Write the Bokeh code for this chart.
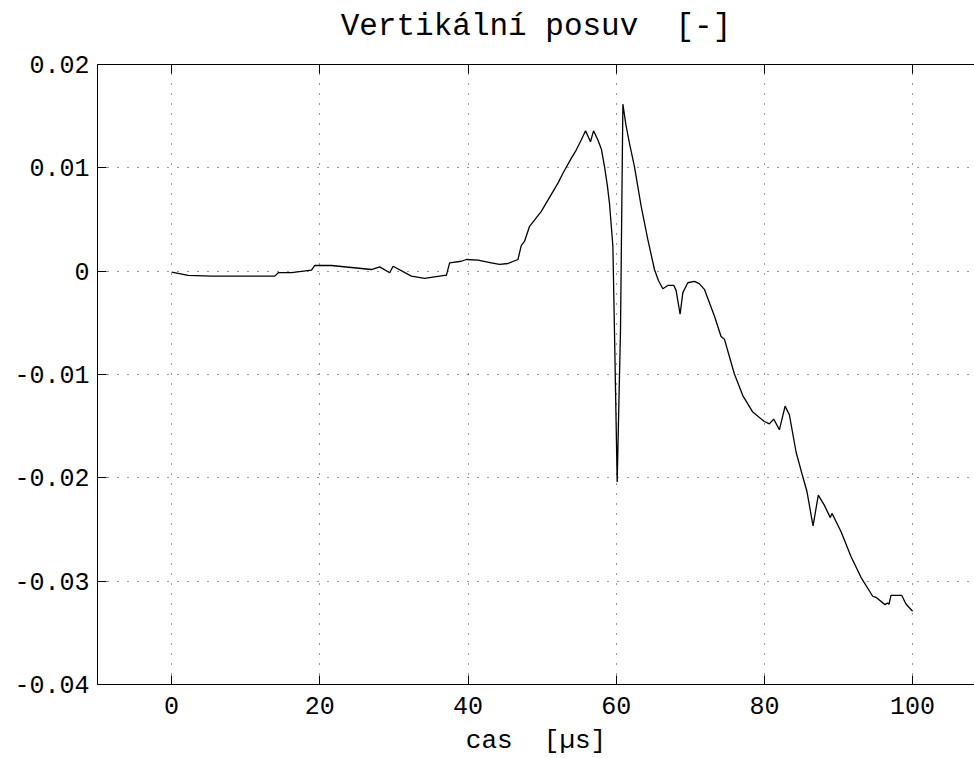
from bokeh.plotting import figure
from bokeh.models import FixedTicker, LinearAxis, Range1d, CustomLabelingPolicy
from bokeh.embed import file_html
from bokeh.resources import INLINE

# ---- data ----
time_us = [0, 2.25, 5.39, 13.93, 14.39, 16.18, 18.88, 19.32, 21.57, 26.96,
           28.08, 29.43, 29.89, 32.36, 34.14, 36.84, 37.08, 37.52, 39.10, 39.77,
           41.35, 43.14, 44.26, 45.40, 46.74, 47.19, 47.63, 48.31, 49.89, 52.14,
           52.81, 53.93, 54.60, 55.28, 55.86, 56.53, 56.94, 57.53, 58.0, 58.42, 58.8, 59.09,
           59.55, 59.76, 60.13, 60.58, 60.90, 61.30, 61.79, 62.46, 63.37, 64.27, 65.16, 65.7,
           66.29, 66.97, 67.78, 68.08, 68.62, 68.99, 69.66, 70.55, 71.20, 71.90, 73.25,
           74.15, 74.60, 75.95, 77.08, 78.43, 79.99, 80.67, 81.26, 82.02, 82.79,
           83.37, 84.27, 85.18, 85.75, 86.56, 87.27, 88.08, 88.89, 89.12, 90.33,
           91.68, 93.03, 94.61, 95.05, 96.27, 96.63, 96.81, 97.08, 98.52, 99.10,
           100.0]
posuv = [-0.0001, -0.00041, -0.00048, -0.00048, -0.00015, -0.00015, 0.0001, 0.00055, 0.00055, 0.00016,
         0.00042, -0.00015, 0.00048, -0.00048, -0.0007, -0.00041, -0.00041, 0.00081, 0.00096, 0.00113,
         0.00106, 0.00081, 0.00065, 0.00074, 0.00113, 0.0025, 0.00289, 0.00434, 0.00578, 0.00852,
         0.00948, 0.01092, 0.01172, 0.01269, 0.01358, 0.01252, 0.01358, 0.01269, 0.0118, 0.01012, 0.0083, 0.00659,
         0.00241, -0.00562, -0.02039, -0.00562, 0.01616, 0.0142, 0.01237, 0.01012, 0.00626, 0.00305, 0.00016, -0.0009,
         -0.0017, -0.00138, -0.00138, -0.00186, -0.00417, -0.00208, -0.00112, -0.00099, -0.0012, -0.00176, -0.00434,
         -0.00632, -0.00658, -0.00995, -0.01204, -0.01364, -0.01455, -0.01477, -0.01432, -0.01535, -0.01306,
         -0.0139, -0.0175, -0.0199, -0.02135, -0.02466, -0.02168, -0.02264, -0.02385, -0.02344, -0.0252,
         -0.02761, -0.02963, -0.03146, -0.03156, -0.03227, -0.03211, -0.03225, -0.03137, -0.03137, -0.03221,
         -0.03291]

x_ticks = [0, 20, 40, 60, 80, 100]
y_ticks = [-0.04, -0.03, -0.02, -0.01, 0, 0.01, 0.02]
y_tick_labels = ["-0.04", "-0.03", "-0.02", "-0.01", "0", "0.01", "0.02"]

# two spaces kept visible (SVG collapses ordinary double spaces)
title_text = "Vertikální posuv \u00a0[-]"
x_label = "cas \u00a0[µs]"

FONT = "Liberation Mono"

p = figure(width=974, height=758, output_backend="svg", toolbar_location=None,
           x_range=Range1d(-10, 108.35), y_range=Range1d(-0.04, 0.02),
           min_border_left=97, min_border_right=0, min_border_top=64,
           min_border_bottom=72, background_fill_color="white",
           border_fill_color="white", outline_line_color=None)

p.line(time_us, posuv, line_color="black", line_width=1.3)

xticker = FixedTicker(ticks=x_ticks)
yticker = FixedTicker(ticks=y_ticks)

for ax in (p.xaxis[0], p.yaxis[0]):
    ax.axis_line_color = "black"
    ax.axis_line_width = 1
    ax.major_tick_in = 9
    ax.major_tick_out = 0
    ax.major_tick_line_color = "black"
    ax.minor_tick_line_color = None
    ax.major_label_text_font = FONT
    ax.major_label_text_font_size = "25px"
    ax.major_label_text_color = "black"
    ax.axis_label_text_font = FONT
    ax.axis_label_text_font_size = "26px"
    ax.axis_label_text_font_style = "normal"
    ax.axis_label_text_color = "black"

p.xaxis[0].ticker = xticker
p.yaxis[0].ticker = yticker
p.yaxis[0].major_label_overrides = {t: s for t, s in zip(y_ticks, y_tick_labels)}
p.xaxis[0].axis_label = x_label
p.xaxis[0].major_label_standoff = 12
p.xaxis[0].axis_label_standoff = 9
p.yaxis[0].major_label_standoff = 8

# top box edge with inward ticks; the chart title is carried as its label
no_labels = CustomLabelingPolicy(code="""
const all = [...indices];
for (const i of all) indices.unset(i);
return indices;
""")
top = LinearAxis(ticker=xticker, axis_line_color="black", major_tick_in=9,
                 major_tick_out=0, minor_tick_line_color=None,
                 major_label_text_font_size="1px", major_label_standoff=0,
                 major_label_policy=no_labels,
                 axis_label=title_text, axis_label_text_font=FONT,
                 axis_label_text_font_size="31px",
                 axis_label_text_font_style="normal",
                 axis_label_text_color="black", axis_label_standoff=17)
p.add_layout(top, "above")

for g, tk in ((p.xgrid[0], xticker), (p.ygrid[0], yticker)):
    g.ticker = tk
    g.grid_line_color = "black"
    g.grid_line_width = 1
    g.grid_line_dash = "1 9"
    g.grid_line_alpha = 0.8

open("out.html", "w").write(file_html(p, INLINE))
